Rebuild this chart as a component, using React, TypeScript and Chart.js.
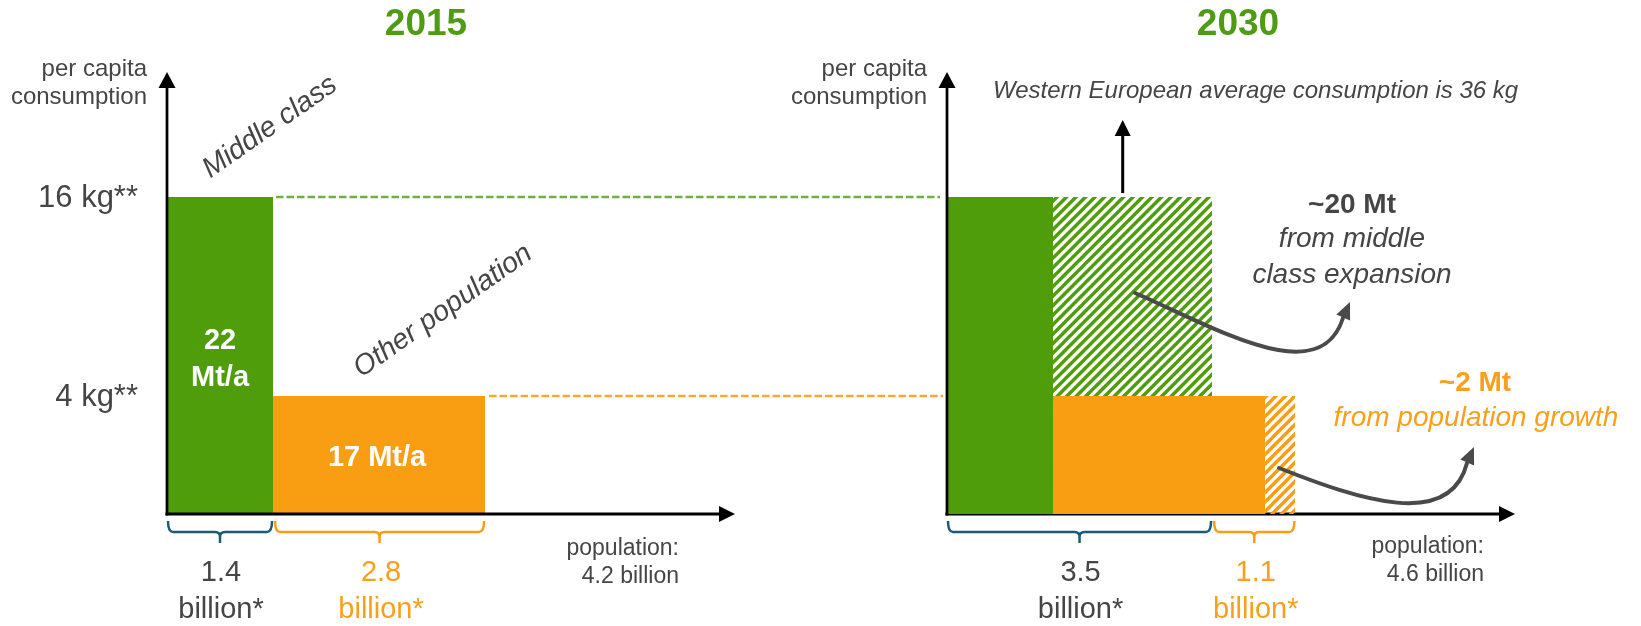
import React, { useEffect, useRef } from 'react';
import { Chart, registerables, LinearScale } from 'chart.js';

// ---------------- data ----------------
const years = ['2015', '2030'];
const groupNames = ['Middle class', 'Other population'];
const perCapitaKg = [16, 4]; // middle class, other population
const perCapitaTickLabels = ['16 kg**', '4 kg**'];
const population2015 = [1.4, 2.8]; // billion: middle class, other
const population2030 = [3.5, 1.1]; // billion: middle class, other
const totalPopulation = [4.2, 4.6];
const volume2015 = [['22', 'Mt/a'], ['17 Mt/a']];
const increaseValues = ['~20 Mt', '~2 Mt'];
const increaseNotes = [['from middle', 'class expansion'], ['from population growth']];
const westernEuropeNote = 'Western European average consumption is 36 kg';
const yAxisTitle = ['per capita', 'consumption'];
const xAxisTitle = 'population:';

// ---------------- layout / style ----------------
const W = 1641;
const H = 626;
const AREA_TOP = 73;
const AREA_BOTTOM = 514;
const PANEL_LEFT = [167, 947];
const PANEL_WIDTH = 568;
const X_MAX = 7.5;
const Y_MAX = 20;
const Y_KNOT_VALUES = [0, 4, 16, Y_MAX];
const Y_KNOT_DECIMALS = [0, 118 / 441, 317 / 441, 1];

const GREEN = '#509d0c';
const GREEN_TITLE = '#4f9b14';
const GREEN_DASH = '#72ae44';
const ORANGE = '#f99d12';
const ORANGE_TEXT = '#f8a01c';
const ORANGE_DASH = '#f9a633';
const BLUE = '#1b5a78';
const GREY = '#454545';
const ARROW_GREY = '#4a4a4a';
const FONT = '"Liberation Sans", Arial, Helvetica, sans-serif';

const font = (size: number, weight = 'normal', style = 'normal') => `${style} ${weight} ${size}px ${FONT}`;

// ---------------- custom piecewise-linear scale (schematic y axis) ----------------
class SchematicScale extends LinearScale {
  static id = 'schematic';
  static defaults = LinearScale.defaults;
  valueToDecimal(v: number) {
    const vals = Y_KNOT_VALUES;
    const decs = Y_KNOT_DECIMALS;
    if (v <= vals[0]) return decs[0];
    for (let i = 1; i < vals.length; i++) {
      if (v <= vals[i]) {
        const t = (v - vals[i - 1]) / (vals[i] - vals[i - 1]);
        return decs[i - 1] + t * (decs[i] - decs[i - 1]);
      }
    }
    return decs[decs.length - 1];
  }
  getPixelForValue(value: any) {
    if (value === null || value === undefined || isNaN(value)) return NaN;
    return this.getPixelForDecimal(this.valueToDecimal(+value));
  }
  getValueForPixel(pixel: number) {
    const d = this.getDecimalForPixel(pixel);
    const vals = Y_KNOT_VALUES;
    const decs = Y_KNOT_DECIMALS;
    for (let i = 1; i < decs.length; i++) {
      if (d <= decs[i]) {
        const t = (d - decs[i - 1]) / (decs[i] - decs[i - 1]);
        return vals[i - 1] + t * (vals[i] - vals[i - 1]);
      }
    }
    return vals[vals.length - 1];
  }
}

Chart.register(...registerables, SchematicScale as any);

function makeHatch(color: string) {
  const size = 19;
  const period = size / 2;
  const c = document.createElement('canvas');
  c.width = size;
  c.height = size;
  const g = c.getContext('2d')!;
  g.strokeStyle = color;
  g.lineWidth = 3.4;
  for (let k = -2; k <= 6; k++) {
    const o = k * period;
    g.beginPath();
    g.moveTo(o + 6, -6);
    g.lineTo(o - size - 6, size + 6);
    g.stroke();
  }
  return g.createPattern(c, 'repeat')!;
}

const block = (label: string, x0: number, x1: number, kg: number, color: any) => ({
  label,
  data: [
    { x: x0, y: kg },
    { x: x1, y: kg },
  ],
  fill: 'origin',
  backgroundColor: color,
  borderColor: 'transparent',
  borderWidth: 0,
  pointRadius: 0,
  pointHoverRadius: 0,
  tension: 0,
});

// ---------------- drawing helpers ----------------
function text(ctx: CanvasRenderingContext2D, s: string, x: number, y: number, f: string, color: string, align: CanvasTextAlign = 'center', baseline: CanvasTextBaseline = 'alphabetic') {
  ctx.save();
  ctx.font = f;
  ctx.fillStyle = color;
  ctx.textAlign = align;
  ctx.textBaseline = baseline;
  ctx.fillText(s, x, y);
  ctx.restore();
}

function arrowHead(ctx: CanvasRenderingContext2D, tipX: number, tipY: number, dx: number, dy: number, len: number, width: number, color: string) {
  const n = Math.hypot(dx, dy);
  const ux = dx / n;
  const uy = dy / n;
  const bx = tipX - ux * len;
  const by = tipY - uy * len;
  ctx.save();
  ctx.fillStyle = color;
  ctx.beginPath();
  ctx.moveTo(tipX, tipY);
  ctx.lineTo(bx - (uy * width) / 2, by + (ux * width) / 2);
  ctx.lineTo(bx + (uy * width) / 2, by - (ux * width) / 2);
  ctx.closePath();
  ctx.fill();
  ctx.restore();
}

function brace(ctx: CanvasRenderingContext2D, x0: number, x1: number, color: string) {
  const top = 521;
  const mid = 532;
  const bot = 543;
  const r = 5;
  const xc = (x0 + x1) / 2;
  ctx.save();
  ctx.strokeStyle = color;
  ctx.lineWidth = 2.5;
  ctx.lineJoin = 'round';
  ctx.beginPath();
  ctx.moveTo(x0, top);
  ctx.quadraticCurveTo(x0, mid, x0 + r, mid);
  ctx.lineTo(xc - r, mid);
  ctx.quadraticCurveTo(xc, mid, xc, mid + r);
  ctx.lineTo(xc, bot);
  ctx.moveTo(xc, mid + r);
  ctx.quadraticCurveTo(xc, mid, xc + r, mid);
  ctx.lineTo(x1 - r, mid);
  ctx.quadraticCurveTo(x1, mid, x1, top);
  ctx.stroke();
  ctx.restore();
}

function dashed(ctx: CanvasRenderingContext2D, x0: number, x1: number, y: number, color: string) {
  ctx.save();
  ctx.strokeStyle = color;
  ctx.lineWidth = 2.5;
  ctx.setLineDash([7.5, 3]);
  ctx.beginPath();
  ctx.moveTo(x0, y);
  ctx.lineTo(x1, y);
  ctx.stroke();
  ctx.restore();
}

function curvedArrow(ctx: CanvasRenderingContext2D, p: number[][], tip: number[]) {
  ctx.save();
  ctx.strokeStyle = ARROW_GREY;
  ctx.lineWidth = 4;
  ctx.lineCap = 'round';
  ctx.beginPath();
  ctx.moveTo(p[0][0], p[0][1]);
  ctx.bezierCurveTo(p[1][0], p[1][1], p[2][0], p[2][1], p[3][0], p[3][1]);
  ctx.stroke();
  ctx.restore();
  arrowHead(ctx, tip[0], tip[1], tip[0] - p[3][0], tip[1] - p[3][1], 17, 15, ARROW_GREY);
}

function drawXAxis(chart: any) {
  const ctx = chart.ctx as CanvasRenderingContext2D;
  const a = chart.chartArea;
  ctx.save();
  ctx.strokeStyle = '#000';
  ctx.lineWidth = 3;
  ctx.beginPath();
  ctx.moveTo(a.left - 1.5, a.bottom);
  ctx.lineTo(a.right - 14, a.bottom);
  ctx.stroke();
  ctx.restore();
  arrowHead(ctx, a.right, a.bottom, 1, 0, 16, 16, '#000');
}

function drawYAxis(chart: any) {
  const ctx = chart.ctx as CanvasRenderingContext2D;
  const a = chart.chartArea;
  ctx.save();
  ctx.strokeStyle = '#000';
  ctx.lineWidth = 2.75;
  ctx.beginPath();
  ctx.moveTo(a.left, a.bottom + 1.5);
  ctx.lineTo(a.left, a.top + 14);
  ctx.stroke();
  ctx.restore();
  arrowHead(ctx, a.left, a.top - 1, 0, -1, 16, 17, '#000');
}

function annotationPlugin(panel: number) {
  return {
    id: 'annotations' + panel,
    beforeDatasetsDraw(chart: any) {
      if (panel === 1) drawXAxis(chart);
    },
    afterDatasetsDraw(chart: any) {
      const ctx = chart.ctx as CanvasRenderingContext2D;
      const a = chart.chartArea;
      const xs = chart.scales.x;
      const ys = chart.scales.y;
      const yMid = ys.getPixelForValue(perCapitaKg[0]);
      const yOther = ys.getPixelForValue(perCapitaKg[1]);

      if (panel === 0) drawXAxis(chart);
      drawYAxis(chart);

      // title
      text(ctx, years[panel], panel === 0 ? 426 : 1238, 35, font(37, 'bold'), GREEN_TITLE);
      // y axis title
      text(ctx, yAxisTitle[0], a.left - 20, 76, font(24), GREY, 'right');
      text(ctx, yAxisTitle[1], a.left - 20, 104, font(24), GREY, 'right');

      if (panel === 0) {
        // tick labels
        perCapitaKg.forEach((v, i) => {
          text(ctx, perCapitaTickLabels[i], a.left - 29, ys.getPixelForValue(v) + 1, font(31), GREY, 'right', 'middle');
        });
        // rotated group labels
        const rot = (s: string, cx: number, cy: number) => {
          ctx.save();
          ctx.translate(cx, cy);
          ctx.rotate((-35 * Math.PI) / 180);
          text(ctx, s, 0, 0, font(28.5, 'normal', 'italic'), GREY, 'center', 'middle');
          ctx.restore();
        };
        rot(groupNames[0], 270, 127);
        rot(groupNames[1], 443, 311);

        // volume labels
        const mcX = (xs.getPixelForValue(0) + xs.getPixelForValue(population2015[0])) / 2;
        const opX = (xs.getPixelForValue(population2015[0]) + xs.getPixelForValue(totalPopulation[0])) / 2;
        text(ctx, volume2015[0][0], mcX, 349, font(29, 'bold'), '#fff');
        text(ctx, volume2015[0][1], mcX, 386, font(29, 'bold'), '#fff');
        text(ctx, volume2015[1][0], opX - 2, 466, font(29, 'bold'), '#fff');

        // dashed connectors to 2030 panel
        dashed(ctx, xs.getPixelForValue(population2015[0]) + 3, PANEL_LEFT[1] - 7, yMid, GREEN_DASH);
        dashed(ctx, xs.getPixelForValue(totalPopulation[0]) + 4, PANEL_LEFT[1] - 4, yOther, ORANGE_DASH);
      } else {
        // Western Europe note and arrow
        text(ctx, westernEuropeNote, 993, 98, font(24, 'normal', 'italic'), GREY, 'left');
        const weX = xs.getPixelForValue(2.32);
        ctx.save();
        ctx.strokeStyle = '#000';
        ctx.lineWidth = 3;
        ctx.beginPath();
        ctx.moveTo(weX, yMid - 4);
        ctx.lineTo(weX, 134);
        ctx.stroke();
        ctx.restore();
        arrowHead(ctx, weX, 120, 0, -1, 16, 16, '#000');

        // increase annotations
        text(ctx, increaseValues[0], 1352, 213, font(28, 'bold'), GREY);
        text(ctx, increaseNotes[0][0], 1352, 247, font(28, 'normal', 'italic'), GREY);
        text(ctx, increaseNotes[0][1], 1352, 283, font(28, 'normal', 'italic'), GREY);
        text(ctx, increaseValues[1], 1475, 391, font(28, 'bold'), ORANGE_TEXT);
        text(ctx, increaseNotes[1][0], 1476, 426, font(28, 'normal', 'italic'), ORANGE_TEXT);

        curvedArrow(ctx, [[1135, 293], [1220, 330], [1320, 390], [1343, 318]], [1350, 302]);
        curvedArrow(ctx, [[1279, 468], [1360, 500], [1450, 530], [1467, 463]], [1474, 447]);
      }

      // braces and population labels
      const pops = panel === 0 ? population2015 : population2030;
      const b0 = xs.getPixelForValue(0);
      const b1 = xs.getPixelForValue(pops[0]);
      const b2 = xs.getPixelForValue(pops[0] + pops[1]);
      brace(ctx, b0 + 1, b1 - 1, BLUE);
      brace(ctx, b1 + 2, b2 - 1, ORANGE);
      const f = font(29);
      text(ctx, pops[0].toFixed(1), (b0 + b1) / 2 + 1, 581, f, GREY);
      text(ctx, 'billion*', (b0 + b1) / 2 + 1, 618, f, GREY);
      text(ctx, pops[1].toFixed(1), (b1 + b2) / 2 + 2, 581, f, ORANGE_TEXT);
      text(ctx, 'billion*', (b1 + b2) / 2 + 2, 618, f, ORANGE_TEXT);

      const popRight = panel === 0 ? 679 : 1484;
      text(ctx, xAxisTitle, popRight, panel === 0 ? 555 : 553, font(23), GREY, 'right');
      text(ctx, `${totalPopulation[panel].toFixed(1)} billion`, popRight, panel === 0 ? 583 : 581, font(23), GREY, 'right');
    },
  };
}

function makeConfig(panel: number): any {
  let datasets: any[];
  if (panel === 0) {
    datasets = [
      block(groupNames[0], 0, population2015[0], perCapitaKg[0], GREEN),
      block(groupNames[1], population2015[0], population2015[0] + population2015[1], perCapitaKg[1], ORANGE),
    ];
  } else {
    const otherEnd = population2015[0] + population2015[1];
    datasets = [
      block('Other population (2015)', population2015[0], otherEnd, perCapitaKg[1], ORANGE),
      block('Population growth', otherEnd, population2030[0] + population2030[1], perCapitaKg[1], makeHatch(ORANGE)),
      block('Middle class (2015)', 0, population2015[0], perCapitaKg[0], GREEN),
      block('Middle class expansion', population2015[0], population2030[0], perCapitaKg[0], makeHatch(GREEN)),
    ];
  }
  return {
    type: 'line',
    data: { datasets },
    options: {
      responsive: false,
      animation: false,
      events: [],
      layout: {
        padding: {
          left: PANEL_LEFT[panel],
          right: W - PANEL_LEFT[panel] - PANEL_WIDTH,
          top: AREA_TOP,
          bottom: H - AREA_BOTTOM,
        },
      },
      scales: {
        x: { type: 'linear', min: 0, max: X_MAX, display: false },
        y: { type: 'schematic', min: 0, max: Y_MAX, display: false },
      },
      plugins: { legend: { display: false }, tooltip: { enabled: false } },
    },
    plugins: [annotationPlugin(panel)],
  };
}

export default function App() {
  const leftRef = useRef<HTMLCanvasElement>(null);
  const rightRef = useRef<HTMLCanvasElement>(null);
  useEffect(() => {
    const charts = [new Chart(leftRef.current!, makeConfig(0)), new Chart(rightRef.current!, makeConfig(1))];
    return () => charts.forEach((c) => c.destroy());
  }, []);
  return (
    <div style={{ position: 'absolute', left: 0, top: 0, width: W, height: H, background: '#fff' }}>
      <canvas ref={leftRef} width={W} height={H} style={{ position: 'absolute', left: 0, top: 0, display: 'block' }} />
      <canvas ref={rightRef} width={W} height={H} style={{ position: 'absolute', left: 0, top: 0, display: 'block' }} />
    </div>
  );
}
